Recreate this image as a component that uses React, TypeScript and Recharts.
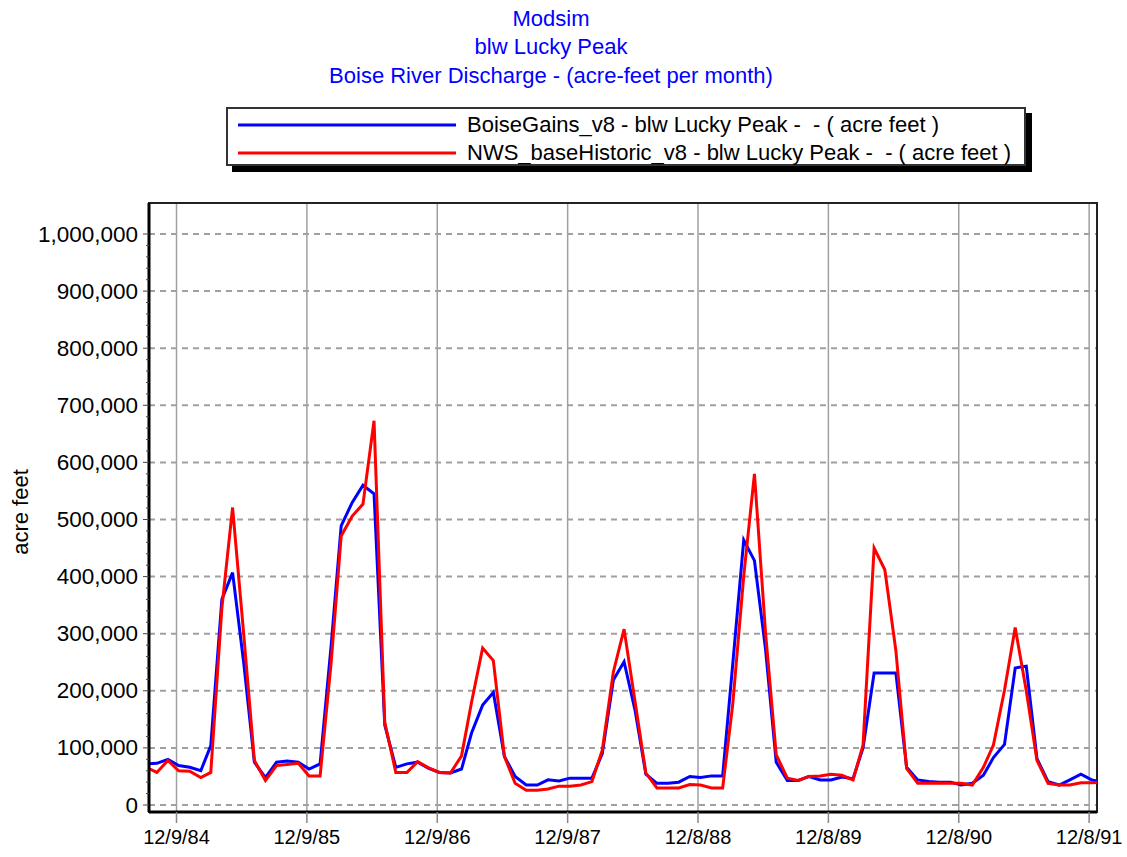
import React from 'react';
import {
  LineChart,
  Line,
  XAxis,
  YAxis,
  CartesianGrid,
  Legend,
  ReferenceArea,
  Customized,
} from 'recharts';

const FONT = '"Liberation Sans", Arial, sans-serif';

const titleLines = ['Modsim', 'blw Lucky Peak', 'Boise River Discharge - (acre-feet per month)'];
const yAxisTitle = 'acre feet';
const seriesNames = [
  'BoiseGains_v8 - blw Lucky Peak -  - ( acre feet )',
  'NWS_baseHistoric_v8 - blw Lucky Peak -  - ( acre feet )',
];

// Monthly values (thousand acre-feet), one per month, mid-month, Sep 1984 .. Jan 1992
const firstMonth = { year: 1984, month: 9 };
const boiseGainsKaf = [
  72, 73, 80, 69, 66, 60, 104, 360, 407, 250, 75, 48,
  75, 77, 75, 63, 72, 280, 489, 530, 560, 545, 140, 66,
  72, 75, 64, 57, 56, 63, 126, 175, 197, 85, 50, 35,
  35, 44, 42, 47, 47, 47, 90, 219, 251, 165, 54, 38,
  38, 40, 50, 48, 51, 51, 245, 464, 428, 273, 75, 43,
  43, 50, 44, 44, 49, 46, 100, 231, 231, 231, 66, 44,
  41, 40, 40, 35, 38, 52, 83, 106, 240, 243, 81, 41,
  35, 44, 54, 44, 40,
];
const nwsBaseHistoricKaf = [
  66, 57, 78, 60, 59, 48, 57, 345, 521, 300, 78, 43,
  69, 71, 73, 51, 51, 250, 471, 506, 527, 673, 145, 57,
  57, 76, 65, 57, 56, 86, 180, 275, 253, 85, 38, 26,
  26, 28, 33, 33, 35, 41, 96, 233, 308, 180, 56, 30,
  30, 30, 36, 35, 30, 30, 175, 401, 580, 302, 88, 47,
  43, 50, 51, 54, 52, 44, 105, 450, 412, 270, 64, 38,
  38, 38, 38, 38, 35, 66, 105, 201, 311, 200, 78, 38,
  35, 35, 39, 39, 40,
];

const xTickDates: [number, number, number][] = [
  [1984, 12, 9], [1985, 12, 9], [1986, 12, 9], [1987, 12, 9],
  [1988, 12, 8], [1989, 12, 8], [1990, 12, 8], [1991, 12, 8],
];
const xTickLabels = ['12/9/84', '12/9/85', '12/9/86', '12/9/87', '12/8/88', '12/8/89', '12/8/90', '12/8/91'];
const yMajorTicks = [0, 100000, 200000, 300000, 400000, 500000, 600000, 700000, 800000, 900000, 1000000];
const yMinorStep = 20000;

const dayNum = (y: number, m: number, d: number) => Date.UTC(y, m - 1, d) / 86400000;

const xDomain = [dayNum(1984, 9, 23), dayNum(1991, 12, 30)];
const yDomain = [-12250, 1054300];

const xTicks = xTickDates.map(([y, m, d]) => dayNum(y, m, d));
const xLabelMap: Record<number, string> = {};
xTicks.forEach((t, i) => {
  xLabelMap[t] = xTickLabels[i];
});

const yAllTicks: number[] = [];
for (let v = 0; v <= yMajorTicks[yMajorTicks.length - 1]; v += yMinorStep) yAllTicks.push(v);

const data = boiseGainsKaf.map((v, i) => ({
  t: dayNum(firstMonth.year, firstMonth.month + i, 15),
  blue: v * 1000,
  red: nwsBaseHistoricKaf[i] * 1000,
}));

const YTick = (props: any) => {
  const { x, y, payload } = props;
  const v = payload.value as number;
  const major = v % 100000 === 0;
  return (
    <g>
      <line x1={x - (major ? 6 : 3)} y1={y} x2={x} y2={y} stroke="#444" strokeWidth={1} />
      {major && (
        <text
          x={x - 11}
          y={y}
          textAnchor="end"
          dominantBaseline="central"
          fontFamily={FONT}
          fontSize={22.5}
          fill="#000"
        >
          {v.toLocaleString('en-US')}
        </text>
      )}
    </g>
  );
};

const renderLegend = (props: any) => {
  const payload = props.payload || [];
  return (
    <div
      style={{
        position: 'relative',
        width: 800,
        height: 59,
        boxSizing: 'border-box',
        border: '2px solid #333',
        background: '#fff',
        boxShadow: '6px 6px 0 #000',
        fontFamily: FONT,
        fontSize: 22,
        color: '#000',
      }}
    >
      {payload.map((p: any, i: number) => (
        <div
          key={i}
          style={{
            position: 'absolute',
            left: 10,
            top: 2 + i * 28,
            height: 28,
            display: 'flex',
            alignItems: 'center',
            whiteSpace: 'pre',
          }}
        >
          <svg width={218} height={6} style={{ display: 'block' }}>
            <line x1={0} y1={3} x2={218} y2={3} stroke={p.color} strokeWidth={3} />
          </svg>
          <span style={{ marginLeft: 11, lineHeight: '28px' }}>{p.value}</span>
        </div>
      ))}
    </div>
  );
};

const TitleBlock = () => (
  <g>
    {titleLines.map((s, i) => (
      <text
        key={i}
        x={551}
        y={18 + i * 28.5}
        textAnchor="middle"
        dominantBaseline="central"
        fontFamily={FONT}
        fontSize={22}
        fill="#0000ff"
      >
        {s}
      </text>
    ))}
    <text
      x={20}
      y={512}
      textAnchor="middle"
      dominantBaseline="central"
      fontFamily={FONT}
      fontSize={22}
      fill="#000"
      transform="rotate(-90 20 512)"
    >
      {yAxisTitle}
    </text>
  </g>
);

export default function App() {
  return (
    <div style={{ position: 'absolute', left: 0, top: 0, width: 1127, height: 857, background: '#fff' }}>
      <LineChart width={1127} height={857} data={data} margin={{ top: 203, right: 30, bottom: 0, left: 0 }}>
        <CartesianGrid horizontal={false} vertical stroke="#a0a0a0" strokeWidth={1.5} />
        <CartesianGrid
          vertical={false}
          horizontal
          horizontalValues={yMajorTicks}
          stroke="#a0a0a0"
          strokeWidth={2}
          strokeDasharray="6 5"
        />
        <XAxis
          dataKey="t"
          type="number"
          domain={xDomain}
          allowDataOverflow
          ticks={xTicks}
          interval={0}
          tickFormatter={(v: number) => xLabelMap[v] || ''}
          height={45}
          axisLine={{ stroke: '#000', strokeWidth: 3 }}
          tickLine={{ stroke: '#888', strokeWidth: 1.5 }}
          tickSize={11}
          tickMargin={7}
          tick={{ fill: '#000', fontSize: 20, fontFamily: FONT }}
        />
        <YAxis
          type="number"
          domain={yDomain}
          allowDataOverflow
          ticks={yAllTicks}
          interval={0}
          width={149}
          axisLine={{ stroke: '#000', strokeWidth: 3 }}
          tickLine={false}
          tickSize={0}
          tickMargin={0}
          tick={<YTick />}
        />
        <ReferenceArea
          x1={xDomain[0]}
          x2={xDomain[1]}
          y1={yDomain[0]}
          y2={yDomain[1]}
          fill="none"
          fillOpacity={0}
          stroke="#222"
          strokeWidth={2}
        />
        <Line
          type="linear"
          dataKey="blue"
          name={seriesNames[0]}
          stroke="#0000ff"
          strokeWidth={3}
          dot={false}
          isAnimationActive={false}
        />
        <Line
          type="linear"
          dataKey="red"
          name={seriesNames[1]}
          stroke="#ff0000"
          strokeWidth={3}
          dot={false}
          isAnimationActive={false}
        />
        <Legend
          layout="vertical"
          align="center"
          verticalAlign="middle"
          wrapperStyle={{ position: 'absolute', left: 226, top: 107, width: 800, height: 59 }}
          content={renderLegend}
        />
        <Customized component={TitleBlock} />
      </LineChart>
    </div>
  );
}
